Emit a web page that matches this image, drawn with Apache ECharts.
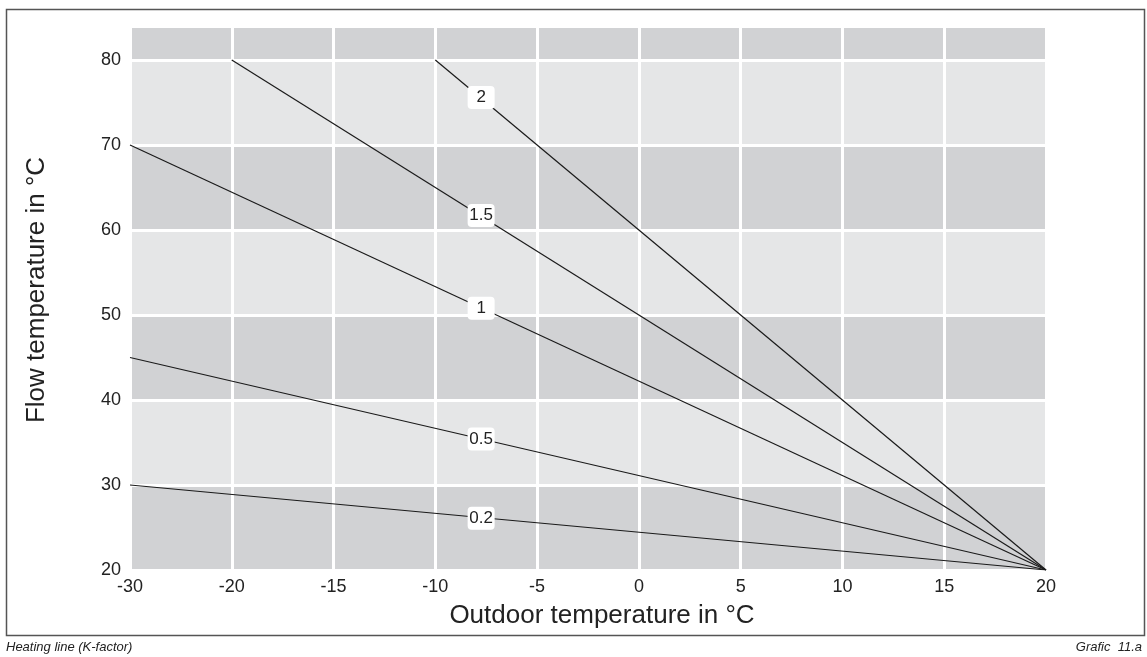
<!DOCTYPE html>
<html>
<head>
<meta charset="utf-8">
<title>Heating line (K-factor)</title>
<script src="https://cdn.jsdelivr.net/npm/echarts@6/dist/echarts.min.js"></script>
<style>
  html, body { margin: 0; padding: 0; background: #fff; }
  #chart { width: 1147px; height: 657px; }
</style>
</head>
<body>
<div id="chart"></div>
<script>
// tick labels of the outdoor axis (equally spaced columns, first one spans 10 K)
const xTickLabels = ['-30', '-20', '-15', '-10', '-5', '0', '5', '10', '15', '20'];

// heating lines: K-factor, start point (outdoor / flow) and common end point
const kFactors = ['0.2', '0.5', '1', '1.5', '2'];
const startOutdoor = [-30, -30, -30, -20, -10];
const startFlow = [30, 45, 70, 80, 80];
const endOutdoor = 20;
const endFlow = 20;

// where the K-factor tags sit (column position, flow value)
const tagColumn = 3.45;
const tagFlow = [26.1, 35.4, 50.8, 61.7, 75.6];

const FONT = "'Liberation Sans', Arial, sans-serif";

function col(t) {
  return xTickLabels.indexOf(String(t));
}

const series = kFactors.map(function (k, i) {
  return {
    name: k,
    type: 'line',
    symbol: 'none',
    lineStyle: { color: '#1a1a1a', width: 1.2 },
    data: [[col(startOutdoor[i]), startFlow[i]], [col(endOutdoor), endFlow]],
    markPoint: {
      symbol: 'circle',
      symbolSize: 1,
      itemStyle: { color: 'rgba(0,0,0,0)' },
      label: {
        show: true,
        position: 'inside',
        formatter: k,
        backgroundColor: '#fff',
        borderRadius: 4,
        padding: [3, 3],
        width: 21,
        lineHeight: 17,
        align: 'center',
        fontFamily: FONT,
        fontSize: 17,
        color: '#222'
      },
      data: [{ coord: [tagColumn, tagFlow[i]] }]
    }
  };
});

const chart = echarts.init(document.getElementById('chart'));
chart.setOption({
  animation: false,
  textStyle: { fontFamily: FONT },
  grid: { left: 130, right: 101, top: 26, bottom: 87 },
  xAxis: {
    type: 'value',
    min: 0,
    max: 9,
    interval: 1,
    name: 'Outdoor temperature in °C',
    nameLocation: 'middle',
    nameGap: 33,
    nameTextStyle: { fontSize: 26, color: '#222', padding: [0, 0, 0, 28] },
    axisLine: { show: false },
    axisTick: { show: false },
    axisLabel: {
      margin: 8,
      fontSize: 18,
      color: '#222',
      formatter: function (v) { return xTickLabels[v]; }
    },
    splitLine: { show: true, lineStyle: { color: '#fff', width: 3 } }
  },
  yAxis: {
    type: 'value',
    min: 20,
    max: 84,
    interval: 10,
    name: 'Flow temperature in °C',
    nameLocation: 'middle',
    nameGap: 80,
    nameTextStyle: { fontSize: 26, color: '#222', padding: [0, 0, 0, 16] },
    axisLine: { show: false },
    axisTick: { show: false },
    axisLabel: { margin: 9, fontSize: 18, color: '#222', showMaxLabel: false, padding: [5, 0, 0, 0] },
    splitLine: { show: true, lineStyle: { color: '#fff', width: 3 } },
    splitArea: { show: true, areaStyle: { color: ['#d1d2d4', '#e5e6e7'] } }
  },
  graphic: [
    {
      type: 'rect',
      shape: { x: 6.5, y: 9.5, width: 1138, height: 626 },
      style: { fill: 'none', stroke: '#555', lineWidth: 1.5 },
      silent: true
    },
    {
      type: 'text',
      left: 6,
      top: 641,
      style: { text: 'Heating line (K-factor)', font: 'italic 13px ' + FONT, fill: '#222' }
    },
    {
      type: 'text',
      right: 5,
      top: 641,
      style: { text: 'Grafic  11.a', font: 'italic 13px ' + FONT, fill: '#222' }
    }
  ],
  series: series
});
</script>
</body>
</html>
